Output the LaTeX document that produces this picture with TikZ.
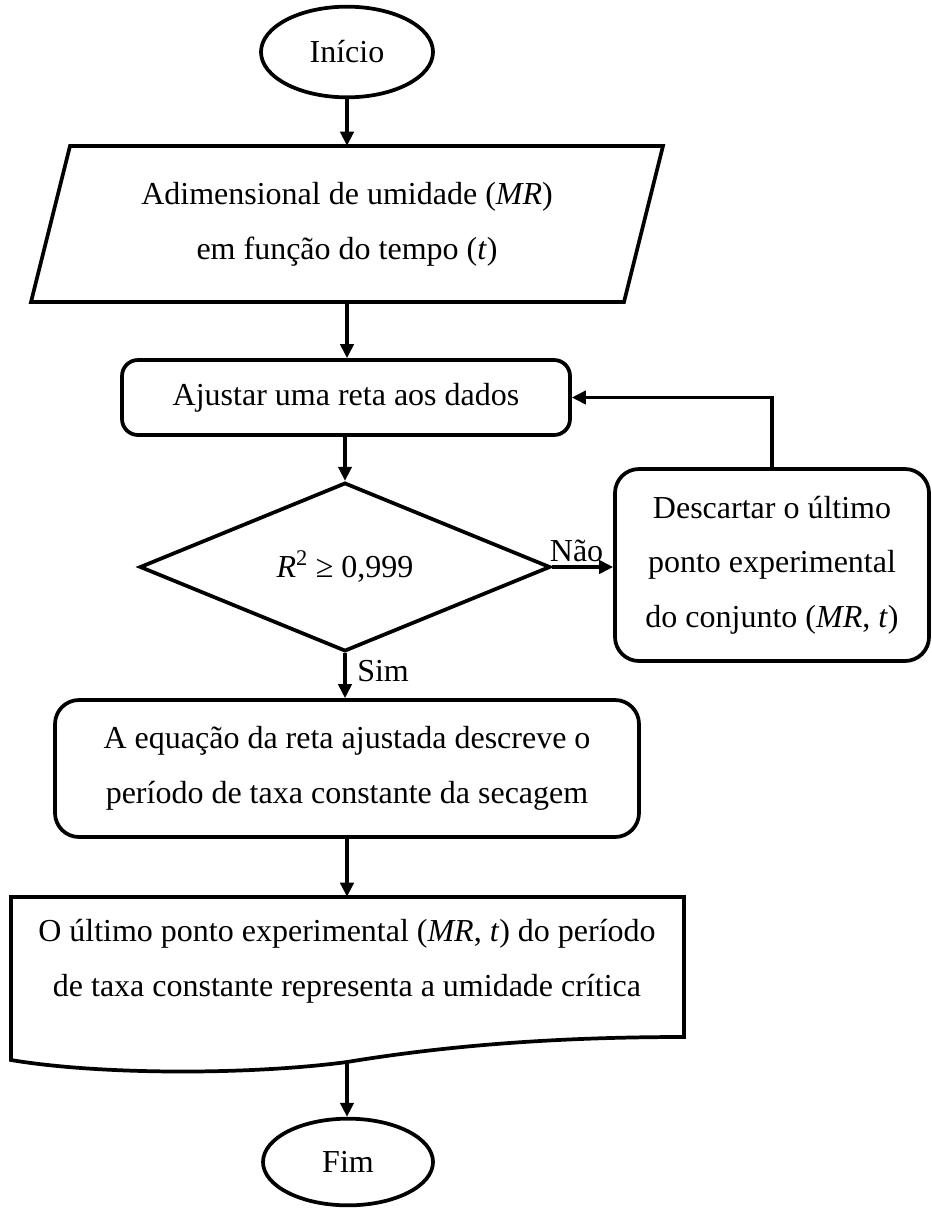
\documentclass[tikz,border=0pt]{standalone}
\usepackage{fontspec}
\setmainfont{Liberation Serif}
\usetikzlibrary{shapes.geometric,arrows.meta,calc}
\begin{document}
\begin{tikzpicture}[x=0.75pt,y=-0.75pt,
  every node/.style={font=\fontsize{24}{41}\selectfont, align=center},
  outline/.style={draw, line width=2.8pt},
  box/.style={outline, rounded corners=12pt, inner sep=0pt},
  conn/.style={line width=2.4pt, -{Triangle[length=10.5pt,width=10pt]}},
  term/.style={outline, ellipse, inner sep=0pt, minimum width=129pt, minimum height=68pt},
  lbl/.style={inner sep=3pt}]
\useasboundingbox (0,0) rectangle (931,1209);

\node[term] (start) at (347,52) {Início};

\node[inner sep=0pt, minimum width=444pt, minimum height=117pt] (inp) at (347,224)
  {Adimensional de umidade (\textit{MR})\\em função do tempo (\textit{t})};
\draw[outline, line join=miter] (70,146) -- (663,146) -- (624,302) -- (31,302) -- cycle;

\node[box, minimum width=336pt, minimum height=56.25pt] (aj) at (346,397.5) {Ajustar uma reta aos dados};

\node[outline, diamond, inner sep=0pt, minimum width=308pt, minimum height=111pt] (dec) at (345,567)
  {\textit{R}\textsuperscript{2} ≥ 0,999};

\node[box, rounded corners=18pt, minimum width=235.5pt, minimum height=144pt] (desc) at (772,565)
  {Descartar o último\\ponto experimental\\do conjunto (\textit{MR}, \textit{t})};

\node[box, rounded corners=18pt, minimum width=438pt, minimum height=102.75pt] (eq) at (347,768.5)
  {A equação da reta ajustada descreve o\\período de taxa constante da secagem};

\node[inner sep=0pt, minimum width=505pt, minimum height=96pt] (doc) at (347,961)
  {O último ponto experimental (\textit{MR}, \textit{t}) do período\\de taxa constante representa a umidade crítica};
\draw[outline, line join=miter] (11,1060) -- (11,897) -- (684,897) -- (684,1037)
  .. controls (560,1037) and (450,1045) .. (347,1062)
  .. controls (250,1075) and (100,1075) .. (11,1060) -- cycle;
\coordinate (docb) at (347,1062);

\node[term, minimum width=127.5pt, minimum height=65pt] (end) at (348,1162) {Fim};

\draw[conn] (start.south) -- (start.south |- inp.north);
\draw[conn] (inp.south) -- (inp.south |- aj.north);
\draw[conn] (aj.south -| dec.north) -- (dec.north);
\draw[conn] (dec.east) -- (dec.east -| desc.west) node[lbl, pos=0.4, anchor=south] {Não};
\draw[conn] (desc.north) -- (desc.north |- aj.east) -- (aj.east);
\draw[conn] (dec.south) -- (dec.south |- eq.north) node[pos=0.4, right, inner sep=8pt] {Sim};
\draw[conn] (eq.south) -- (eq.south |- doc.north);
\draw[conn] (docb) -- (docb |- end.north);
\end{tikzpicture}
\end{document}
